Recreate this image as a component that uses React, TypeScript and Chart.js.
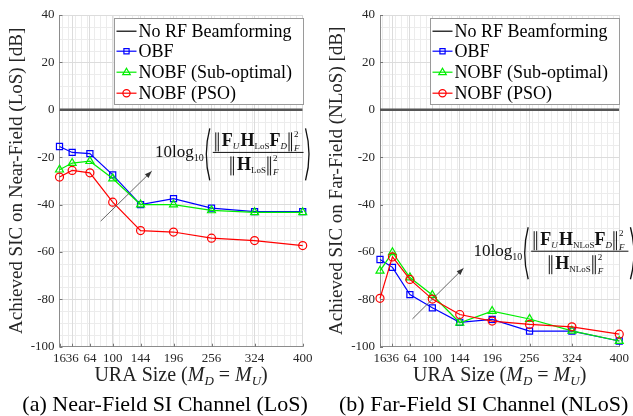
import React, { useEffect, useRef } from 'react';
import { Chart, registerables } from 'chart.js';

Chart.register(...registerables);

// ---------------- data ----------------
const uraSizes = [16, 36, 64, 100, 144, 196, 256, 324, 400];
const yTickValues = [-100, -80, -60, -40, -20, 0, 20, 40];

const noRfLoS = [0, 0, 0, 0, 0, 0, 0, 0, 0];
const obfLoS = [-15.5, -18, -18.5, -27.5, -40, -37.5, -41.5, -43, -43];
const nobfSubLoS = [-25.3, -22.5, -21.7, -29, -40, -40, -42.5, -43.3, -43.3];
const nobfPsoLoS = [-28.4, -25.6, -26.6, -39, -51, -51.6, -54.2, -55.2, -57.3];

const noRfNLoS = [0, 0, 0, 0, 0, 0, 0, 0, 0];
const obfNLoS = [-63.2, -66.5, -78, -83.6, -89.7, -88.5, -93.4, -93.4, -97.6];
const nobfSubNLoS = [-68, -60.2, -70.8, -78.2, -89.9, -85, -88.3, -93.3, -97.6];
const nobfPsoNLoS = [-79.6, -62.1, -71.6, -79.9, -86.4, -89.2, -90.6, -91.6, -94.7];

const seriesNames = ['No RF Beamforming', 'OBF', 'NOBF (Sub-optimal)', 'NOBF (PSO)'];
const seriesColors = ['#000000', '#0000ff', '#00ee00', '#ff0000'];
const seriesMarkers = ['line', 'rect', 'triangle', 'circle'];

// arrow (data coords: [x0, y0, x1, y1])
const arrowLoS = [81, -47, 161.6, -25.9];
const arrowNLoS = [68, -88.3, 150, -66.9];
// formula anchor (data coords: left x, fraction-bar y)
const formulaLoS = [166.9, -18];
const formulaNLoS = [166, -59.7];

const SERIF = '"Liberation Serif", "Times New Roman", serif';

// ---------------- drawing helpers ----------------
function drawMarker(ctx: CanvasRenderingContext2D, kind: string, x: number, y: number, r: number, color: string) {
  ctx.save();
  ctx.strokeStyle = color;
  ctx.lineWidth = 1.2;
  ctx.beginPath();
  if (kind === 'rect') {
    ctx.rect(x - r, y - r, 2 * r, 2 * r);
  } else if (kind === 'triangle') {
    ctx.moveTo(x, y - r * 1.1);
    ctx.lineTo(x + r * 1.05, y + r * 0.7);
    ctx.lineTo(x - r * 1.05, y + r * 0.7);
    ctx.closePath();
  } else if (kind === 'circle') {
    ctx.arc(x, y, r, 0, Math.PI * 2);
  }
  ctx.stroke();
  ctx.restore();
}

type Piece = { t: string; font: string; dy: number };

function piecesWidth(ctx: CanvasRenderingContext2D, pieces: Piece[]) {
  let w = 0;
  for (const p of pieces) {
    ctx.font = p.font;
    w += ctx.measureText(p.t).width;
  }
  return w;
}

function drawPieces(ctx: CanvasRenderingContext2D, pieces: Piece[], x: number, base: number) {
  let cx = x;
  for (const p of pieces) {
    ctx.font = p.font;
    ctx.fillText(p.t, cx, base + p.dy);
    cx += ctx.measureText(p.t).width;
  }
  return cx;
}

function drawNormExpr(ctx: CanvasRenderingContext2D, inner: Piece[], cx: number, base: number) {
  const bw = 6;
  const innerW = piecesWidth(ctx, inner);
  ctx.font = `italic 9px ${SERIF}`;
  const scriptW = ctx.measureText('F').width + 1;
  const total = bw + 1 + innerW + 2 + bw + scriptW;
  let x = cx - total / 2;
  const top = base - 14;
  const bot = base + 5;
  ctx.lineWidth = 1;
  const bars = (bx: number) => {
    ctx.beginPath();
    ctx.moveTo(bx + 1, top); ctx.lineTo(bx + 1, bot);
    ctx.moveTo(bx + 3.5, top); ctx.lineTo(bx + 3.5, bot);
    ctx.stroke();
  };
  bars(x);
  x += bw + 1;
  x = drawPieces(ctx, inner, x, base);
  x += 1;
  bars(x);
  x += bw;
  ctx.font = `9px ${SERIF}`;
  ctx.fillText('2', x, base - 9);
  ctx.font = `italic 9px ${SERIF}`;
  ctx.fillText('F', x, base + 5);
}

function drawParen(ctx: CanvasRenderingContext2D, x: number, top: number, bot: number, left: boolean) {
  const mid = (top + bot) / 2;
  ctx.lineWidth = 1.3;
  ctx.beginPath();
  if (left) {
    ctx.moveTo(x + 5, top);
    ctx.quadraticCurveTo(x - 2, mid, x + 5, bot);
  } else {
    ctx.moveTo(x, top);
    ctx.quadraticCurveTo(x + 7, mid, x, bot);
  }
  ctx.stroke();
}

function drawFormula(ctx: CanvasRenderingContext2D, x: number, yMid: number, sub: string) {
  ctx.save();
  ctx.fillStyle = '#111';
  ctx.strokeStyle = '#111';
  ctx.textBaseline = 'alphabetic';
  ctx.textAlign = 'left';
  const base = yMid + 5;
  ctx.font = `17px ${SERIF}`;
  ctx.fillText('10log', x, base);
  let cx = x + ctx.measureText('10log').width;
  ctx.font = `10px ${SERIF}`;
  ctx.fillText('10', cx, base + 4);
  cx += ctx.measureText('10').width + 1;
  const pTop = yMid - 24;
  const pBot = yMid + 28;
  drawParen(ctx, cx, pTop, pBot, true);
  cx += 8;
  const B = `bold 18px ${SERIF}`;
  const SI = `italic 9px ${SERIF}`;
  const SR = `9px ${SERIF}`;
  const num: Piece[] = [
    { t: 'F', font: B, dy: 0 },
    { t: 'U', font: SI, dy: 3 },
    { t: ' ', font: `5px ${SERIF}`, dy: 0 },
    { t: 'H', font: B, dy: 0 },
    { t: sub, font: SR, dy: 3 },
    { t: 'F', font: B, dy: 0 },
    { t: 'D', font: SI, dy: 3 },
  ];
  const den: Piece[] = [
    { t: 'H', font: B, dy: 0 },
    { t: sub, font: SR, dy: 3 },
  ];
  ctx.font = `italic 9px ${SERIF}`;
  const scriptW = ctx.measureText('F').width + 1;
  const numW = piecesWidth(ctx, num) + 12 + 3 + scriptW;
  const fracW = numW + 4;
  const fracCx = cx + fracW / 2;
  drawNormExpr(ctx, num, fracCx, yMid - 6);
  drawNormExpr(ctx, den, fracCx - 3, yMid + 18);
  ctx.lineWidth = 1;
  ctx.beginPath();
  ctx.moveTo(cx, yMid);
  ctx.lineTo(cx + fracW, yMid);
  ctx.stroke();
  drawParen(ctx, cx + fracW + 2, pTop, pBot, false);
  ctx.restore();
}

function drawArrow(ctx: CanvasRenderingContext2D, x0: number, y0: number, x1: number, y1: number) {
  ctx.save();
  ctx.strokeStyle = '#555';
  ctx.fillStyle = '#333';
  ctx.lineWidth = 0.9;
  ctx.beginPath();
  ctx.moveTo(x0, y0);
  ctx.lineTo(x1, y1);
  ctx.stroke();
  const a = Math.atan2(y1 - y0, x1 - x0);
  const L = 7;
  const W = 2.6;
  ctx.beginPath();
  ctx.moveTo(x1, y1);
  ctx.lineTo(x1 - L * Math.cos(a) + W * Math.sin(a), y1 - L * Math.sin(a) - W * Math.cos(a));
  ctx.lineTo(x1 - L * Math.cos(a) - W * Math.sin(a), y1 - L * Math.sin(a) + W * Math.cos(a));
  ctx.closePath();
  ctx.fill();
  ctx.restore();
}

// ---------------- chart panel ----------------
type PanelCfg = {
  left: number;
  width: number;
  yTitle: string;
  caption: string;
  sub: string;
  series: number[][];
  arrow: number[];
  formula: number[];
};

const PLOT_RIGHT = 302.7;
const PLOT_TOP = 15;
const PLOT_BOTTOM = 346.7;

function Panel({ cfg }: { cfg: PanelCfg }) {
  const ref = useRef<HTMLCanvasElement>(null);
  useEffect(() => {
    const canvas = ref.current;
    if (!canvas) return;
    const yAxisW = cfg.left === 0 ? 59.5 : 60;

    const decor = {
      id: 'decor',
      beforeDraw(chart: any) {
        const { ctx, chartArea: a, scales } = chart;
        const xs = scales.x;
        const ys = scales.y;
        ctx.save();
        ctx.fillStyle = '#fff';
        ctx.fillRect(0, 0, chart.width, chart.height);
        ctx.strokeStyle = '#ececec';
        ctx.lineWidth = 1;
        ctx.beginPath();
        for (let v = 20; v < 400; v += 10) {
          const px = Math.round(xs.getPixelForValue(v)) + 0.5;
          ctx.moveTo(px, a.top);
          ctx.lineTo(px, a.bottom);
        }
        for (let v = -95; v < 40; v += 5) {
          if (v % 20 === 0) continue;
          const py = Math.round(ys.getPixelForValue(v)) + 0.5;
          ctx.moveTo(a.left, py);
          ctx.lineTo(a.right, py);
        }
        ctx.stroke();
        ctx.restore();
      },
      beforeDatasetsDraw(chart: any) {
        const { ctx, chartArea: a, scales } = chart;
        ctx.save();
        ctx.strokeStyle = '#777';
        ctx.lineWidth = 1;
        ctx.beginPath();
        for (const v of uraSizes) {
          const px = Math.round(scales.x.getPixelForValue(v)) + 0.5;
          ctx.moveTo(px, a.bottom);
          ctx.lineTo(px, a.bottom - 3);
        }
        for (const v of yTickValues) {
          const py = Math.round(scales.y.getPixelForValue(v)) + 0.5;
          ctx.moveTo(a.left, py);
          ctx.lineTo(a.left + 3, py);
        }
        ctx.stroke();
        ctx.restore();
      },
      afterDatasetsDraw(chart: any) {
        const { ctx, chartArea: a, scales } = chart;
        const xs = scales.x;
        const ys = scales.y;
        drawArrow(
          ctx,
          xs.getPixelForValue(cfg.arrow[0]), ys.getPixelForValue(cfg.arrow[1]),
          xs.getPixelForValue(cfg.arrow[2]), ys.getPixelForValue(cfg.arrow[3])
        );
        drawFormula(ctx, xs.getPixelForValue(cfg.formula[0]), ys.getPixelForValue(cfg.formula[1]), cfg.sub);

        // legend
        const lw = 189;
        const lh = 86;
        const lx = Math.round(a.right - lw) + 0.5;
        const ly = Math.round(a.top + 3) + 0.5;
        ctx.save();
        ctx.fillStyle = '#fff';
        ctx.fillRect(lx, ly, lw, lh);
        ctx.strokeStyle = '#9a9a9a';
        ctx.lineWidth = 1;
        ctx.strokeRect(lx, ly, lw, lh);
        const rows = [12.7, 32.7, 53.7, 74.7];
        ctx.textBaseline = 'middle';
        ctx.textAlign = 'left';
        ctx.font = `18px ${SERIF}`;
        for (let i = 0; i < seriesNames.length; i++) {
          const ry = ly + rows[i];
          ctx.strokeStyle = seriesColors[i];
          ctx.lineWidth = 1.2;
          ctx.beginPath();
          ctx.moveTo(lx + 2, ry);
          ctx.lineTo(lx + 22, ry);
          ctx.stroke();
          if (seriesMarkers[i] !== 'line') {
            const r = seriesMarkers[i] === 'rect' ? 2.6 : 3.6;
            drawMarker(ctx, seriesMarkers[i], lx + 12, ry, r, seriesColors[i]);
          }
          ctx.fillStyle = '#000';
          ctx.fillText(seriesNames[i], lx + 24, ry + 1);
        }
        ctx.restore();
      },
      afterDraw(chart: any) {
        const { ctx, chartArea: a } = chart;
        ctx.save();
        ctx.fillStyle = '#222';
        ctx.textBaseline = 'alphabetic';
        const R = `20px ${SERIF}`;
        const I = `italic 20px ${SERIF}`;
        const S = `italic 13px ${SERIF}`;
        const pieces: Piece[] = [
          { t: 'URA Size (', font: R, dy: 0 },
          { t: 'M', font: I, dy: 0 },
          { t: 'D', font: S, dy: 4 },
          { t: ' = ', font: R, dy: 0 },
          { t: 'M', font: I, dy: 0 },
          { t: 'U', font: S, dy: 4 },
          { t: ')', font: R, dy: 0 },
        ];
        const w = piecesWidth(ctx, pieces);
        const cx = (a.left + a.right) / 2;
        drawPieces(ctx, pieces, cx - w / 2, 381);
        ctx.font = `22px ${SERIF}`;
        ctx.fillStyle = '#000';
        ctx.textAlign = 'center';
        ctx.fillText(cfg.caption, cx - 16, 411);
        ctx.restore();
      },
    };

    const mk = (i: number, values: number[]) => {
      const base: any = {
        label: seriesNames[i],
        data: uraSizes.map((x, k) => ({ x, y: values[k] })),
        borderColor: seriesColors[i],
        backgroundColor: 'rgba(0,0,0,0)',
        borderWidth: 1.2,
        clip: false,
        tension: 0,
      };
      if (i === 0) {
        base.borderColor = '#555555';
        base.borderWidth = 2.4;
        base.pointRadius = 0;
        base.clip = 0;
        base.order = 5;
      } else {
        base.pointStyle = seriesMarkers[i];
        base.pointRadius = seriesMarkers[i] === 'rect' ? 4.3 : seriesMarkers[i] === 'triangle' ? 4.6 : 4;
        base.pointBorderWidth = 1.2;
        base.pointBorderColor = seriesColors[i];
        base.pointBackgroundColor = 'rgba(0,0,0,0)';
        base.order = 5 - i;
      }
      return base;
    };

    const chart = new Chart(canvas, {
      type: 'line',
      data: {
        datasets: cfg.series.map((s, i) => mk(i, s)),
      },
      options: {
        animation: false,
        responsive: false,
        devicePixelRatio: 1,
        layout: {
          padding: { left: 0, top: PLOT_TOP, right: cfg.width - PLOT_RIGHT, bottom: 0 },
        },
        plugins: {
          legend: { display: false },
          tooltip: { enabled: false },
          title: { display: false },
        },
        scales: {
          x: {
            type: 'linear',
            min: 16,
            max: 400,
            afterBuildTicks: (scale: any) => {
              scale.ticks = uraSizes.map((v) => ({ value: v }));
            },
            afterFit: (scale: any) => {
              scale.height = 416 - PLOT_BOTTOM;
            },
            ticks: {
              autoSkip: false,
              maxRotation: 0,
              minRotation: 0,
              padding: 4,
              color: '#262626',
              font: { family: SERIF, size: 13 },
              callback: (v: any) => String(v),
            },
            grid: { color: '#dcdcdc', drawTicks: false, lineWidth: 1 },
            border: { display: true, color: '#8c8c8c', width: 1 },
          },
          y: {
            type: 'linear',
            min: -100,
            max: 40,
            afterBuildTicks: (scale: any) => {
              scale.ticks = yTickValues.map((v) => ({ value: v }));
            },
            afterFit: (scale: any) => {
              scale.width = yAxisW;
            },
            ticks: {
              padding: 5,
              color: '#262626',
              font: { family: SERIF, size: 13 },
              callback: (v: any) => String(v),
            },
            grid: { color: '#dcdcdc', drawTicks: false, lineWidth: 1 },
            border: { display: true, color: '#8c8c8c', width: 1 },
            title: {
              display: true,
              text: cfg.yTitle,
              color: '#262626',
              font: { family: SERIF, size: 19 },
              padding: { top: 6, bottom: 0 },
            },
          },
        },
      },
      plugins: [decor],
    } as any);
    return () => chart.destroy();
  }, [cfg]);

  return (
    <div style={{ position: 'absolute', left: cfg.left, top: 0, width: cfg.width, height: 416 }}>
      <canvas ref={ref} width={cfg.width} height={416} style={{ display: 'block' }} />
    </div>
  );
}

const leftCfg: PanelCfg = {
  left: 0,
  width: 320,
  yTitle: 'Achieved SIC on Near-Field (LoS) [dB]',
  caption: '(a) Near-Field SI Channel (LoS)',
  sub: 'LoS',
  series: [noRfLoS, obfLoS, nobfSubLoS, nobfPsoLoS],
  arrow: arrowLoS,
  formula: formulaLoS,
};

const rightCfg: PanelCfg = {
  left: 320,
  width: 313,
  yTitle: 'Achieved SIC on Far-Field (NLoS) [dB]',
  caption: '(b) Far-Field SI Channel (NLoS)',
  sub: 'NLoS',
  series: [noRfNLoS, obfNLoS, nobfSubNLoS, nobfPsoNLoS],
  arrow: arrowNLoS,
  formula: formulaNLoS,
};

export default function App() {
  return (
    <div style={{ position: 'absolute', left: 0, top: 0, width: 633, height: 416, background: '#fff', overflow: 'hidden' }}>
      <Panel cfg={leftCfg} />
      <Panel cfg={rightCfg} />
    </div>
  );
}
